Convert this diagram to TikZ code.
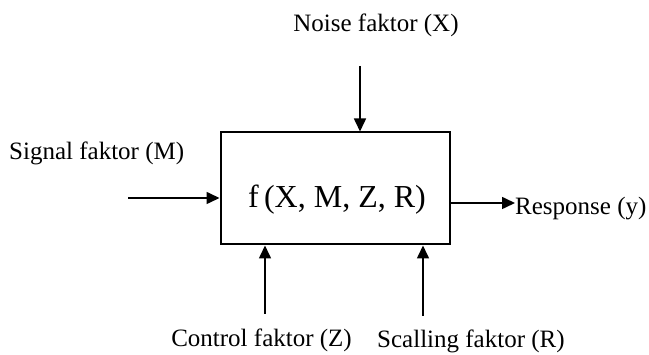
\documentclass[tikz,border=0pt]{standalone}
\usepackage{fontspec}
\setmainfont{Liberation Serif}
\usetikzlibrary{arrows.meta}
\begin{document}
\begin{tikzpicture}[x=1pt,y=-1pt,
  lbl/.style={inner sep=0pt,font=\fontsize{25}{30}\selectfont},
  boxst/.style={draw,line width=2pt,minimum width=229pt,minimum height=112pt,inner sep=0pt},
  arr/.style={line width=1.6pt,-{Triangle[length=13pt,width=12pt]}}]
\useasboundingbox (0,0) rectangle (649,355);
\node[boxst] (box) at (335,188.5) {};
\node[inner sep=0pt,anchor=base,font=\fontsize{32}{36}\selectfont] (f) at (337,208) {f\,(X, M, Z, R)};
\node[lbl,anchor=base] (noise) at (376,32) {Noise faktor (X)};
\node[lbl,anchor=base west] (signal) at (9,160) {Signal faktor (M)};
\node[lbl,anchor=base west] (resp) at (515,215) {Response (y)};
\node[lbl,anchor=base east] (ctrl) at (352,347) {Control faktor (Z)};
\node[lbl,anchor=base west] (scal) at (377,348) {Scalling faktor (R)};
\coordinate (n1) at (360,66);
\coordinate (s1) at (128,198);
\coordinate (r1) at (515,203);
\coordinate (c1) at (265,314);
\coordinate (sc1) at (423,316);
\draw[arr] (n1) -- (n1 |- box.north);
\draw[arr] (s1) -- (s1 -| box.west);
\draw[arr] (r1 -| box.east) -- (r1);
\draw[arr] (c1) -- (c1 |- box.south);
\draw[arr] (sc1) -- (sc1 |- box.south);
\end{tikzpicture}
\end{document}
